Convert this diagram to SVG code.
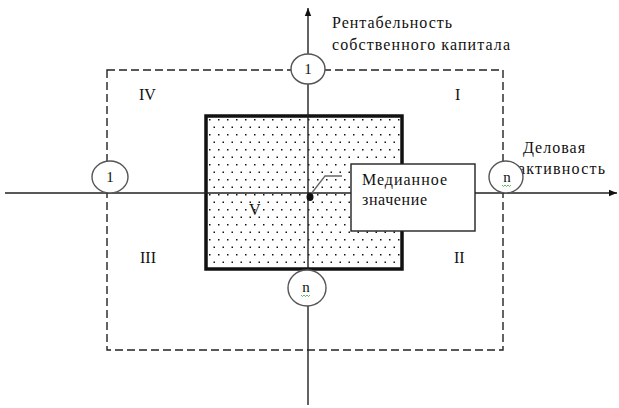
<svg xmlns="http://www.w3.org/2000/svg" width="619" height="408" viewBox="0 0 619 408">
<style>
text{font-family:"Liberation Serif","Times New Roman",serif;fill:#111}
.lbl{font-size:16px}
.num{font-size:15px}
.cir{fill:#fff;stroke:#555;stroke-width:1.4}
.axis{stroke:#222;stroke-width:1.4;fill:none}
.dash{stroke:#222;stroke-width:1.4;fill:none;stroke-dasharray:8,4}
</style>
<defs>
<pattern id="dots" x="206" y="116" width="9" height="15" patternUnits="userSpaceOnUse">
<rect x="3" y="3" width="1.5" height="1.5" fill="#111"/>
<rect x="7.5" y="10.5" width="1.5" height="1.5" fill="#111"/>
</pattern>
<marker id="arr" viewBox="0 0 10 10" refX="10" refY="5" markerWidth="8" markerHeight="8" markerUnits="userSpaceOnUse" orient="auto">
<path d="M0,1 L10,5 L0,9 Z" fill="#111"/>
</marker>
</defs>
<g id="zone-box">
<rect x="107" y="70" width="396" height="280" class="dash"/>
</g>
<g id="median-zone">
<rect x="206" y="116" width="196" height="153" fill="url(#dots)" stroke="#111" stroke-width="3.5"/>
</g>
<g id="connectors">
<line x1="5" y1="193" x2="617" y2="193" class="axis" marker-end="url(#arr)"/>
<line x1="308" y1="405" x2="308" y2="8" class="axis" marker-end="url(#arr)"/>
<polyline points="311,194 325,176 342,176" fill="none" stroke="#666" stroke-width="1.3"/>
</g>
<g id="median-point">
<ellipse cx="310" cy="197" rx="3.5" ry="4" fill="#111"/>
</g>
<g id="median-label">
<rect x="351" y="164" width="124" height="67" fill="#fff" stroke="#222" stroke-width="1.4"/>
<text class="lbl" x="362" y="185" textLength="85" lengthAdjust="spacing">Медианное</text>
<text class="lbl" x="362" y="205" textLength="65" lengthAdjust="spacing">значение</text>
</g>
<g id="quadrant-labels">
<text class="lbl" x="139" y="100">IV</text>
<text class="lbl" x="455" y="100">I</text>
<text class="lbl" x="140" y="263">III</text>
<text class="lbl" x="454" y="263">II</text>
<text class="lbl" x="249" y="215">V</text>
</g>
<g id="axis-labels">
<text class="lbl" x="332" y="28" textLength="120" lengthAdjust="spacing">Рентабельность</text>
<text class="lbl" x="332" y="50" textLength="178" lengthAdjust="spacing">собственного капитала</text>
<text class="lbl" x="523" y="153" textLength="62" lengthAdjust="spacing">Деловая</text>
<text class="lbl" x="518" y="174" textLength="87" lengthAdjust="spacing">активность</text>
</g>
<g id="circle-top">
<ellipse cx="308" cy="69" rx="17" ry="15" class="cir"/>
<text class="num" x="308" y="74" text-anchor="middle">1</text>
</g>
<g id="circle-left">
<ellipse cx="110" cy="177" rx="18" ry="16" class="cir"/>
<text class="num" x="110" y="182" text-anchor="middle">1</text>
</g>
<g id="circle-right">
<ellipse cx="506" cy="177" rx="17" ry="16" class="cir"/>
<text class="num" x="507" y="182" text-anchor="middle">n</text>
<path d="M502,185 l1.5,1.5 l1.5,-1.5 l1.5,1.5 l1.5,-1.5 l1.5,1.5 l1.5,-1.5" fill="none" stroke="#3a3" stroke-width="0.8"/>
</g>
<g id="circle-bottom">
<ellipse cx="307" cy="288" rx="19" ry="18" class="cir"/>
<text class="num" x="306" y="292" text-anchor="middle">n</text>
<path d="M301,295 l1.5,1.5 l1.5,-1.5 l1.5,1.5 l1.5,-1.5 l1.5,1.5 l1.5,-1.5" fill="none" stroke="#3a3" stroke-width="0.8"/>
</g>
</svg>
